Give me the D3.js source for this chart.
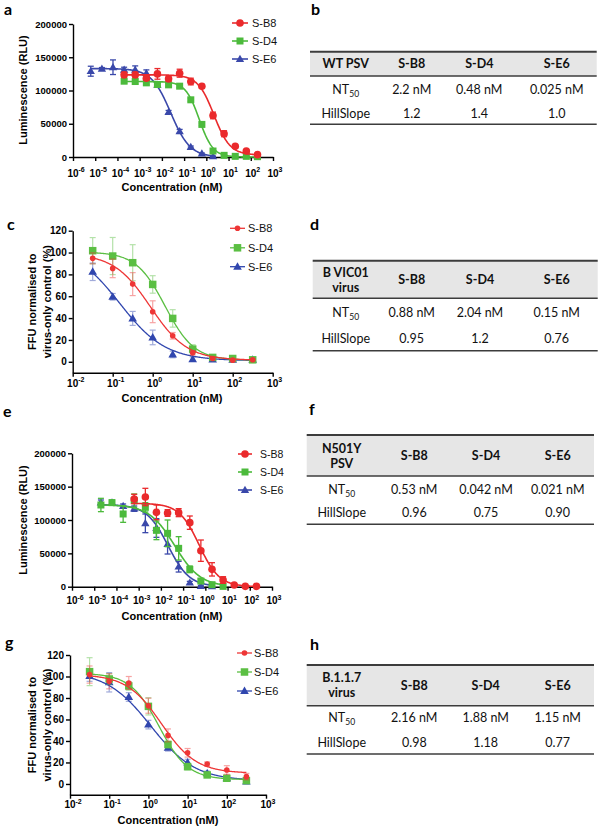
<!DOCTYPE html>
<html><head><meta charset="utf-8">
<script src="https://cdn.jsdelivr.net/npm/d3@7"></script>
<style>body{margin:0;background:#fff}</style>
</head><body>
<svg id="fig" width="600" height="828"></svg>
<script>
// ================= DATA =================
const seriesNames = ["S-B8", "S-D4", "S-E6"];
const logTicksWide = [1e-6, 1e-5, 1e-4, 1e-3, 1e-2, 1e-1, 1e0, 1e1, 1e2, 1e3];
const logTicksNarrow = [1e-2, 1e-1, 1e0, 1e1, 1e2, 1e3];
const lumTicks = [0, 50000, 100000, 150000, 200000];
const ffuTicks = [0, 20, 40, 60, 80, 100, 120];

// Panel a : WT PSV (luminescence)
const aDoseB8 = [0.0002, 0.00063, 0.002, 0.0063, 0.02, 0.063, 0.2, 0.63, 2, 6.3, 20, 63, 200];
const aValB8  = [123500, 123500, 118500, 125000, 117500, 126000, 113500, 106500, 62500, 35000, 16000, 9000, 3500];
const aErrB8  = [4000, 4000, 3000, 8000, 4000, 6000, 5000, 2500, 5000, 4500, 2000, 1500, 1000];
const aDoseD4 = [0.0002, 0.00063, 0.002, 0.0063, 0.02, 0.063, 0.2, 0.63, 2, 6.3, 20, 63, 200];
const aValD4  = [114000, 113500, 111500, 109000, 108500, 106500, 86000, 49000, 9000, 2500, 1000, 1000, 500];
const aErrD4  = [3000, 3500, 3000, 2500, 2000, 2000, 2500, 2000, 1000, 800, 500, 500, 500];
const aDoseE6 = [0.0000063, 0.00002, 0.000063, 0.0002, 0.00063, 0.002, 0.0063, 0.02, 0.063, 0.2, 0.63, 2];
const aValE6  = [129000, 132500, 135000, 131000, 131000, 126000, 108500, 67500, 38500, 15000, 5000, 1000];
const aErrE6  = [7500, 2000, 11000, 4000, 6000, 5000, 2500, 2500, 3000, 1500, 1000, 500];
const aTop    = [123500, 113500, 133000];
const aBottom = [3000, 0, 0];
const aEC50   = [2.2, 0.48, 0.025];
const aHill   = [1.2, 1.4, 1.0];

// Panel c : B VIC01 virus (FFU %)
const cDose   = [0.0316, 0.1, 0.316, 1, 3.16, 10, 31.6, 100, 316];
const cValB8  = [94.7, 85.5, 71.1, 45.8, 23.8, 8.2, 3, 1.5, 1.8];
const cErrB8  = [5, 8.5, 10.5, 10, 3, 2, 1, 0.8, 0.8];
const cValD4  = [101.7, 96.8, 90.7, 70.8, 39.7, 11.6, 4, 3, 1.8];
const cErrD4  = [12, 17, 16.5, 8, 8, 4, 1, 1, 1];
const cValE6  = [82.4, 59.5, 39.7, 22.3, 6.7, 2.4, 2, 1.8, 1.8];
const cErrE6  = [8, 3, 6.4, 6.7, 3, 2, 1, 1, 1];
const cTop    = [99, 100.5, 106];
const cBottom = [1.5, 1.5, 1];
const cEC50   = [0.88, 2.04, 0.15];
const cHill   = [0.95, 1.2, 0.76];

// Panel e : N501Y PSV (luminescence)
const eDoseB8 = [0.00063, 0.002, 0.0063, 0.02, 0.063, 0.2, 0.63, 2, 6.3, 20, 63, 200];
const eValB8  = [131500, 134500, 111500, 110500, 111000, 96000, 54000, 26000, 10000, 2500, 500, 500];
const eErrB8  = [7000, 13000, 11000, 5000, 6000, 10000, 16000, 10000, 5000, 1500, 500, 500];
const eDoseD4 = [0.00002, 0.000063, 0.0002, 0.00063, 0.002, 0.0063, 0.02, 0.063, 0.2, 0.63, 2, 6.3];
const eValD4  = [122500, 126000, 109000, 129000, 119000, 84500, 80000, 57500, 26000, 8500, 3000, 500];
const eErrD4  = [10000, 4000, 12500, 10000, 7000, 14000, 20000, 17500, 5000, 3000, 1500, 500];
const eDoseE6 = [0.00002, 0.000063, 0.0002, 0.00063, 0.002, 0.0063, 0.02, 0.063, 0.2, 0.63, 2];
const eValE6  = [126000, 126000, 121000, 117000, 95000, 88000, 64000, 30000, 6000, 1000, 500];
const eErrE6  = [4000, 3000, 3000, 4000, 14000, 14000, 15000, 8000, 2000, 1000, 500];
const eTop    = [125000, 123000, 123000];
const eBottom = [0, 0, 0];
const eEC50   = [0.53, 0.042, 0.021];
const eHill   = [0.96, 0.75, 0.90];

// Panel g : B.1.1.7 virus (FFU %)
const gDose   = [0.0316, 0.1, 0.316, 1, 3.16, 10, 31.6, 100, 316];
const gValB8  = [101.8, 95.5, 94, 72.8, 45.2, 29, 18.5, 13, 6.8];
const gErrB8  = [8, 7, 6, 7, 6, 4, 2, 4, 3];
const gValD4  = [104.5, 97.7, 91.2, 72.2, 36.7, 16.1, 8.4, 5.3, 3.1];
const gErrD4  = [13, 5, 4, 8, 3, 3, 2, 1, 2];
const gValE6  = [100.5, 94.6, 80.9, 55.2, 33.6, 20, 9.9, 5.3, 2.2];
const gErrE6  = [5, 9, 4, 4, 3, 3, 2, 1, 2];
const gTop    = [102, 103, 105];
const gBottom = [10, 4, 3];
const gEC50   = [2.16, 1.88, 1.15];
const gHill   = [0.98, 1.18, 0.77];

// Tables
const bHeader = ["WT PSV"];
const bNT50 = ["2.2 nM", "0.48 nM", "0.025 nM"];
const bHill = ["1.2", "1.4", "1.0"];
const dHeader = ["B VIC01", "virus"];
const dNT50 = ["0.88 nM", "2.04 nM", "0.15 nM"];
const dHill = ["0.95", "1.2", "0.76"];
const fHeader = ["N501Y", "PSV"];
const fNT50 = ["0.53 nM", "0.042 nM", "0.021 nM"];
const fHill = ["0.96", "0.75", "0.90"];
const hHeader = ["B.1.1.7", "virus"];
const hNT50 = ["2.16 nM", "1.88 nM", "1.15 nM"];
const hHill = ["0.98", "1.18", "0.77"];

// ================= DRAWING =================
const svg = d3.select("#fig");
const FONT = "'Liberation Sans', Arial, sans-serif";
const TFONT = "Lato, 'Open Sans', sans-serif";
const shapes = ["circle", "square", "triangle"];

function marker(g, shape, x, y, color, st) {
  if (shape === "circle") g.append("circle").attr("cx", x).attr("cy", y).attr("r", st.r).attr("fill", color);
  else if (shape === "square") g.append("rect").attr("x", x - st.sq / 2).attr("y", y - st.sq / 2)
      .attr("width", st.sq).attr("height", st.sq).attr("fill", color);
  else g.append("path").attr("d", d3.symbol(d3.symbolTriangle, st.tri)())
      .attr("transform", `translate(${x},${y + 0.5})`).attr("fill", color);
}

function drawPanel(cfg) {
  const g = svg.append("g");
  const x = d3.scaleLog().domain(cfg.xDomain).range(cfg.xRange);
  const y = d3.scaleLinear().domain(cfg.yDomain).range(cfg.yRange);
  const st = cfg.style;

  // axes
  const gx = g.append("g").attr("transform", `translate(0,${y(cfg.yDomain[0])})`)
    .call(d3.axisBottom(x).tickValues(cfg.xTicks).tickSize(4).tickSizeOuter(0).tickFormat(""));
  const gy = g.append("g").attr("transform", `translate(${cfg.xRange[0]},0)`)
    .call(d3.axisLeft(y).tickValues(cfg.yTicks).tickSize(4).tickSizeOuter(0).tickFormat(d3.format("d")));
  [gx, gy].forEach(a => a.selectAll("path,line").attr("stroke", "#000").attr("stroke-width", 1.4));
  gy.selectAll("text").attr("font-family", FONT).attr("font-weight", "bold")
    .attr("font-size", cfg.yTickSize).attr("fill", "#000").attr("x", -6);

  cfg.xTicks.forEach(t => {
    const ex = Math.round(Math.log10(t));
    const tx = g.append("text").attr("x", x(t) - 5.6).attr("y", cfg.xLabelY)
      .attr("font-family", FONT).attr("font-weight", "bold").attr("font-size", 10).text("10");
    tx.append("tspan").attr("dy", -4.5).attr("font-size", 7).text(ex);
  });

  // titles
  g.append("text").attr("x", cfg.xTitleX).attr("y", cfg.xTitleY).attr("text-anchor", "middle")
    .attr("font-family", FONT).attr("font-weight", "bold").attr("font-size", 11).text("Concentration (nM)");
  cfg.yTitle.forEach((t, i) => {
    g.append("text").attr("transform", `translate(${cfg.yTitleX[i]},${cfg.yTitleY}) rotate(-90)`)
      .attr("text-anchor", "middle").attr("dy", "0.35em")
      .attr("font-family", FONT).attr("font-weight", "bold").attr("font-size", 11).text(t);
  });

  // series drawn in reverse so S-B8 is on top
  const line = d3.line().x(d => x(d[0])).y(d => y(d[1]));
  for (let k = cfg.series.length - 1; k >= 0; k--) {
    const s = cfg.series[k];
    const lo = d3.min(s.dose), hi = d3.max(s.dose);
    // fitted four-parameter logistic curve from the fit parameters
    const pts = d3.range(0, 241).map(i => {
      const c = lo * Math.pow(hi / lo, i / 240);
      return [c, s.bottom + (s.top - s.bottom) / (1 + Math.pow(c / s.ec50, s.hill))];
    });
    g.append("path").attr("d", line(pts)).attr("fill", "none").attr("stroke", s.color).attr("stroke-width", st.lw);
    const eg = g.append("g").attr("stroke", s.errColor).attr("stroke-width", st.ew).attr("opacity", st.eop);
    s.dose.forEach((c, i) => {
      const cx = x(c), y1 = y(s.val[i] + s.err[i]), y2 = y(s.val[i] - s.err[i]);
      eg.append("line").attr("x1", cx).attr("x2", cx).attr("y1", y1).attr("y2", y2);
      eg.append("line").attr("x1", cx - st.cap).attr("x2", cx + st.cap).attr("y1", y1).attr("y2", y1);
      eg.append("line").attr("x1", cx - st.cap).attr("x2", cx + st.cap).attr("y1", y2).attr("y2", y2);
    });
    s.dose.forEach((c, i) => marker(g, s.shape, x(c), y(s.val[i]), s.color, st));
  }

  // legend
  const L = cfg.legend;
  cfg.series.forEach((s, i) => {
    g.append("line").attr("x1", L.x1).attr("x2", L.x2).attr("y1", L.ys[i]).attr("y2", L.ys[i])
      .attr("stroke", s.color).attr("stroke-width", st.lw);
    marker(g, s.shape, L.mx, L.ys[i], s.color, st);
    g.append("text").attr("x", L.tx).attr("y", L.ys[i]).attr("dy", "0.36em")
      .attr("font-family", FONT).attr("font-size", L.fs).attr("fill", "#111").text(s.name);
  });
}

function mkSeries(doses, vals, errs, top, bottom, ec50, hill, colors, errColors) {
  return seriesNames.map((n, i) => ({
    name: n, dose: doses[i], val: vals[i], err: errs[i], top: top[i], bottom: bottom[i],
    ec50: ec50[i], hill: hill[i], color: colors[i], errColor: errColors[i], shape: shapes[i]
  }));
}

const colLum = ["#ea2a2c", "#4cba3c", "#3a48aa"];
const colFFU = ["#ee3636", "#5bbf43", "#3046ae"];
const styleLum = { r: 3.8, sq: 7, tri: 30, lw: 1.6, ew: 1.3, cap: 3, eop: 1 };
const styleFFU = { r: 2.8, sq: 7.5, tri: 32, lw: 1.3, ew: 1.2, cap: 3, eop: 0.45 };

// Panel a
drawPanel({
  xDomain: [1e-6, 1e3], xRange: [73, 273], yDomain: [0, 200000], yRange: [157, 24],
  xTicks: logTicksWide, yTicks: lumTicks, yTickSize: 9.5, xLabelY: 176.5,
  xTitleX: 172, xTitleY: 191, yTitle: ["Luminescence (RLU)"], yTitleX: [23], yTitleY: 90,
  style: styleLum,
  series: mkSeries([aDoseB8, aDoseD4, aDoseE6], [aValB8, aValD4, aValE6], [aErrB8, aErrD4, aErrE6],
    aTop, aBottom, aEC50, aHill, colLum, colLum),
  legend: { x1: 232, x2: 248, mx: 240, tx: 252, ys: [23, 41, 59], fs: 11 }
});
// Panel c
drawPanel({
  xDomain: [1e-2, 1e3], xRange: [72.7, 272.7], yDomain: [-10, 120], yRange: [372.7, 230.7],
  xTicks: logTicksNarrow, yTicks: ffuTicks, yTickSize: 10, xLabelY: 386.5,
  xTitleX: 172, xTitleY: 401.5, yTitle: ["FFU normalised to", "virus-only control (%)"], yTitleX: [31.7, 46.7], yTitleY: 301.7,
  style: styleFFU,
  series: mkSeries([cDose, cDose, cDose], [cValB8, cValD4, cValE6], [cErrB8, cErrD4, cErrE6],
    cTop, cBottom, cEC50, cHill, colFFU, colFFU),
  legend: { x1: 230, x2: 245, mx: 237.5, tx: 248, ys: [228.3, 247.8, 266.7], fs: 11 }
});
// Panel e
drawPanel({
  xDomain: [1e-6, 1e3], xRange: [72, 272], yDomain: [0, 200000], yRange: [586.7, 453.3],
  xTicks: logTicksWide, yTicks: lumTicks, yTickSize: 9.5, xLabelY: 604,
  xTitleX: 172, xTitleY: 619.5, yTitle: ["Luminescence (RLU)"], yTitleX: [23], yTitleY: 520,
  style: styleLum,
  series: mkSeries([eDoseB8, eDoseD4, eDoseE6], [eValB8, eValD4, eValE6], [eErrB8, eErrD4, eErrE6],
    eTop, eBottom, eEC50, eHill, colLum, colLum),
  legend: { x1: 238, x2: 252, mx: 245, tx: 260, ys: [454, 472, 490], fs: 10.5 }
});
// Panel g
drawPanel({
  xDomain: [1e-2, 1e3], xRange: [70, 266], yDomain: [-10, 120], yRange: [794.7, 655],
  xTicks: logTicksNarrow, yTicks: ffuTicks, yTickSize: 10, xLabelY: 808,
  xTitleX: 168, xTitleY: 824, yTitle: ["FFU normalised to", "virus-only control (%)"], yTitleX: [31.7, 46.7], yTitleY: 725,
  style: styleFFU,
  series: mkSeries([gDose, gDose, gDose], [gValB8, gValD4, gValE6], [gErrB8, gErrD4, gErrE6],
    gTop, gBottom, gEC50, gHill, colFFU, colFFU),
  legend: { x1: 237, x2: 252, mx: 244.5, tx: 254, ys: [653, 672, 691], fs: 11 }
});

// Tables
function drawTable(cfg) {
  const g = svg.append("g");
  g.append("rect").attr("x", cfg.x0).attr("y", cfg.yTop).attr("width", cfg.x1 - cfg.x0)
    .attr("height", cfg.yHead - cfg.yTop).attr("fill", "#e6e6e6");
  [[cfg.yTop, 2], [cfg.yHead, 1.6], [cfg.yBot, 1.6]].forEach(([yy, w]) =>
    g.append("line").attr("x1", cfg.x0).attr("x2", cfg.x1).attr("y1", yy).attr("y2", yy)
      .attr("stroke", "#3c3c3c").attr("stroke-width", w));
  const mid = (cfg.yTop + cfg.yHead) / 2;
  const hl = cfg.header.length;
  cfg.header.forEach((t, i) => {
    g.append("text").attr("x", cfg.cols[0]).attr("y", mid + (i - (hl - 1) / 2) * 15).attr("dy", "0.36em")
      .attr("text-anchor", "middle").attr("font-family", TFONT).attr("font-weight", "bold")
      .attr("font-size", 12.5).attr("fill", "#111").text(t);
  });
  seriesNames.forEach((n, i) => {
    g.append("text").attr("x", cfg.cols[i + 1]).attr("y", mid).attr("dy", "0.36em")
      .attr("text-anchor", "middle").attr("font-family", TFONT).attr("font-weight", "bold")
      .attr("font-size", 12.5).attr("fill", "#111").text(n);
  });
  const nt = g.append("text").attr("x", cfg.cols[0]).attr("y", cfg.rows[0]).attr("dy", "0.36em")
    .attr("text-anchor", "middle").attr("font-family", TFONT).attr("font-size", 12.5).attr("fill", "#111").text("NT");
  nt.append("tspan").attr("dy", 3).attr("font-size", 8.5).text("50");
  g.append("text").attr("x", cfg.cols[0]).attr("y", cfg.rows[1]).attr("dy", "0.36em")
    .attr("text-anchor", "middle").attr("font-family", TFONT).attr("font-size", 12.5).attr("fill", "#111").text("HillSlope");
  [cfg.nt50, cfg.hill].forEach((arr, r) => arr.forEach((v, i) => {
    g.append("text").attr("x", cfg.cols[i + 1]).attr("y", cfg.rows[r]).attr("dy", "0.36em")
      .attr("text-anchor", "middle").attr("font-family", TFONT).attr("font-size", 12.5).attr("fill", "#111").text(v);
  }));
}
drawTable({ x0: 310, x1: 596.7, yTop: 51.7, yHead: 76, yBot: 124.3, header: bHeader,
  cols: [345.7, 411.7, 479.3, 556.7], rows: [89.3, 113.3], nt50: bNT50, hill: bHill });
drawTable({ x0: 312.7, x1: 597.7, yTop: 260.7, yHead: 298.3, yBot: 350.7, header: dHeader,
  cols: [345.7, 411.7, 480, 556.7], rows: [312.3, 338.3], nt50: dNT50, hill: dHill });
drawTable({ x0: 306.7, x1: 594, yTop: 435, yHead: 476, yBot: 524.3, header: fHeader,
  cols: [341.7, 414.3, 486, 557.7], rows: [489.3, 512.3], nt50: fNT50, hill: fHill });
drawTable({ x0: 306.7, x1: 594, yTop: 665, yHead: 705.7, yBot: 754, header: hHeader,
  cols: [341.7, 414.3, 485.7, 557.7], rows: [717.7, 742.3], nt50: hNT50, hill: hHill });

// panel letters
const panelLetters = ["a", "b", "c", "d", "e", "f", "g", "h"];
const letterPos = [[4, 15], [311, 15], [7, 230], [310, 230], [3, 417], [309, 415], [5, 648], [310, 650]];
panelLetters.forEach((l, i) => svg.append("text").attr("x", letterPos[i][0]).attr("y", letterPos[i][1])
  .attr("font-family", TFONT).attr("font-weight", "bold").attr("font-size", 16).attr("fill", "#000").text(l));
</script>
</body></html>
